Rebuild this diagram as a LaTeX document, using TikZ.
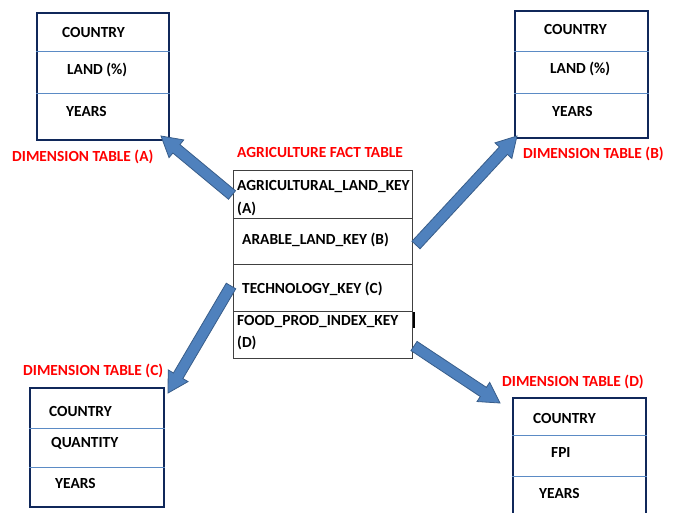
\documentclass[tikz,border=0pt]{standalone}
\usepackage{fontspec}
\setmainfont{Carlito}
\usetikzlibrary{calc}
\definecolor{navy}{HTML}{10285A}
\definecolor{divblue}{HTML}{5B8BC5}
\definecolor{arrfill}{HTML}{4F81BD}
\definecolor{arredge}{HTML}{385D8A}
\definecolor{factgray}{HTML}{404040}
\tikzset{
  cell/.style={font=\bfseries\fontsize{15.4}{17}\selectfont, anchor=west, inner sep=0pt},
  redtitle/.style={font=\bfseries\fontsize{15.4}{17}\selectfont, text=red, anchor=west, inner sep=0pt},
  dimbox/.style={draw=navy, line width=2.4pt, rectangle, inner sep=0pt, anchor=north west},
  factbox/.style={draw=factgray, line width=0.9pt, rectangle, inner sep=0pt, anchor=north west},
  divider/.style={draw=divblue, line width=0.9pt},
  factdiv/.style={draw=factgray, line width=0.9pt},
  blkarrowstyle/.style={fill=arrfill, draw=arredge, line width=0.8pt, line join=miter},
}
\newcommand\blkarrow[2]{%
  \path ($(#2)!20pt!(#1)$) coordinate (hb);
  \filldraw[blkarrowstyle] ($(#1)!5.5pt!90:(#2)$) -- ($(hb)!5.5pt!90:(#2)$) -- ($(hb)!11.5pt!90:(#2)$) -- (#2)
    -- ($(hb)!11.5pt!-90:(#2)$) -- ($(hb)!5.5pt!-90:(#2)$) -- ($(#1)!5.5pt!-90:(#2)$) -- cycle;
}
\begin{document}
\begin{tikzpicture}[x=1pt,y=-1pt]
\useasboundingbox (0,0) rectangle (675,512);
\clip (0,0) rectangle (675,512);
\fill[white] (0,0) rectangle (675,512);

% Dimension table A
\node[dimbox, minimum width=132pt, minimum height=127pt] (tA) at (36,12) {};
\draw[divider] (tA.west |- 0,51) -- (tA.east |- 0,51);
\draw[divider] (tA.west |- 0,93) -- (tA.east |- 0,93);
\node[cell] (tA1) at (62,33) {COUNTRY};
\node[cell] (tA2) at (67,70) {LAND (\%)};
\node[cell] (tA3) at (66,111) {YEARS};
\node[redtitle] (lA) at (12,157) {DIMENSION TABLE (A)};

% Dimension table B
\node[dimbox, minimum width=133pt, minimum height=127pt] (tB) at (514,10) {};
\draw[divider] (tB.west |- 0,51) -- (tB.east |- 0,51);
\draw[divider] (tB.west |- 0,93) -- (tB.east |- 0,93);
\node[cell] (tB1) at (544,30) {COUNTRY};
\node[cell] (tB2) at (550,69) {LAND (\%)};
\node[cell] (tB3) at (552,111) {YEARS};
\node[redtitle] (lB) at (523,154) {DIMENSION TABLE (B)};

% Dimension table C
\node[dimbox, minimum width=134pt, minimum height=119pt] (tC) at (29,387) {};
\draw[divider] (tC.west |- 0,428) -- (tC.east |- 0,428);
\draw[divider] (tC.west |- 0,467) -- (tC.east |- 0,467);
\node[cell] (tC1) at (49,411) {COUNTRY};
\node[cell] (tC2) at (51,443) {QUANTITY};
\node[cell] (tC3) at (55,483) {YEARS};
\node[redtitle] (lC) at (23,371) {DIMENSION TABLE (C)};

% Dimension table D
\node[dimbox, minimum width=133pt, minimum height=140pt] (tD) at (512,397) {};
\draw[divider] (tD.west |- 0,435) -- (tD.east |- 0,435);
\draw[divider] (tD.west |- 0,476) -- (tD.east |- 0,476);
\node[cell] (tD1) at (533,418) {COUNTRY};
\node[cell] (tD2) at (551,452) {FPI};
\node[cell] (tD3) at (539,493) {YEARS};
\node[redtitle] (lD) at (502,382) {DIMENSION TABLE (D)};

% Fact table
\node[redtitle] (lF) at (237,153) {AGRICULTURE\ FACT TABLE};
\node[factbox, minimum width=179pt, minimum height=188pt] (ft) at (233,170) {};
\draw[factdiv] (ft.west |- 0,218) -- (ft.east |- 0,218);
\draw[factdiv] (ft.west |- 0,264) -- (ft.east |- 0,264);
\draw[factdiv] (ft.west |- 0,311) -- (ft.east |- 0,311);
\node[cell] (f1a) at (237,187) {AGRICULTURAL\_LAND\_KEY};
\node[cell] (f1b) at (237,209) {(A)};
\node[cell] (f2) at (242,240) {ARABLE\_LAND\_KEY (B)};
\node[cell] (f3) at (242,289) {TECHNOLOGY\_KEY (C)};
\node[cell] (f4a) at (237,322) {FOOD\_PROD\_INDEX\_KEY};
\node[cell] (f4b) at (237,343) {(D)};
\coordinate (barT) at (414,312);
\coordinate (barB) at (414,328);
\draw[black, line width=1.3pt] (barT) -- (barB);

% Arrows
\coordinate (aAs) at (232,195);
\coordinate (aAe) at (161,136);
\coordinate (aBs) at (416,245);
\coordinate (aBe) at (517,136);
\coordinate (aCs) at (231,286);
\coordinate (aCe) at (168,393);
\coordinate (aDs) at (414,346);
\coordinate (aDe) at (500,403);
\blkarrow{aAs}{aAe}
\blkarrow{aBs}{aBe}
\blkarrow{aCs}{aCe}
\blkarrow{aDs}{aDe}
\end{tikzpicture}
\end{document}
